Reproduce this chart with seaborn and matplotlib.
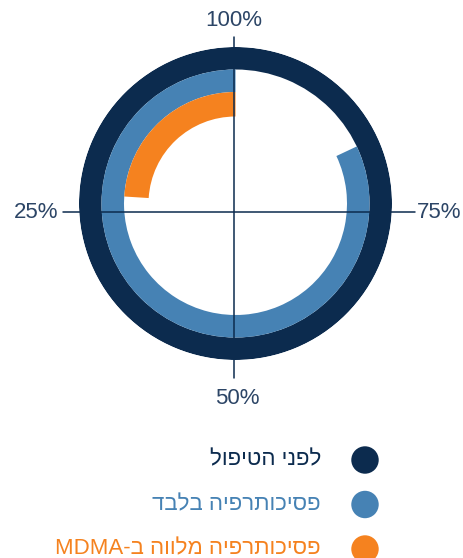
import re
import numpy as np
import seaborn as sns
import matplotlib.pyplot as plt

# data
series = ["לפני הטיפול", "פסיכותרפיה בלבד", "פסיכותרפיה מלווה ב-MDMA"]
values = [100, 82, 24]          # percent of the full circle
colors = ["#0c2b4e", "#4682b4", "#f5821f"]
ticks = [100, 25, 50, 75]       # top, left, bottom, right

sns.set_theme(style="white")
plt.rcParams["font.family"] = ["Liberation Sans", "DejaVu Sans"]


def visual(s):
    # matplotlib has no bidi support: flip hebrew, keep latin runs readable
    r = s[::-1]
    return re.sub(r"[A-Za-z0-9]+", lambda m: m.group(0)[::-1], r)


W, H = 463, 558
fig = plt.figure(figsize=(W / 100, H / 100), dpi=100)

# ring geometry in pixels
cx, cy, R = 235.5, 203.5, 156.5
bands = [(134, 22.5), (111.5, 22.5), (87, 24.5)]  # (inner radius, width)

ax = fig.add_axes([(cx - R) / W, (H - cy - R) / H, 2 * R / W, 2 * R / H],
                  projection="polar")
ax.set_theta_zero_location("N")
ax.set_theta_direction(1)
ax.set_ylim(0, R)
for v, c, (b, w) in zip(values, colors, bands):
    th = v / 100 * 2 * np.pi
    ax.bar(0, w, width=th, bottom=b, align="edge", color=c,
           edgecolor="none", linewidth=0)
ax.grid(False)
ax.set_xticks([])
ax.set_yticks([])
ax.spines["polar"].set_visible(False)
ax.patch.set_alpha(0)

# overlay for crosshair, tick labels and legend
ov = fig.add_axes([0, 0, 1, 1])
ov.set_xlim(0, W)
ov.set_ylim(H, 0)
ov.axis("off")
ov.patch.set_alpha(0)

line_c = "#0c2b4e"
ov.plot([234, 234], [37, 378], color=line_c, lw=1.1)
ov.plot([63, 415], [212, 212], color=line_c, lw=1.1)

lab_c = "#2c4566"
fs = 16
ov.text(234, 20.5, f"{ticks[0]}%", ha="center", va="center", fontsize=fs, color=lab_c)
ov.text(58, 212, f"{ticks[1]}%", ha="right", va="center", fontsize=fs, color=lab_c)
ov.text(237, 399, f"{ticks[2]}%", ha="center", va="center", fontsize=fs, color=lab_c)
ov.text(417, 213, f"{ticks[3]}%", ha="left", va="center", fontsize=fs, color=lab_c)

# legend
for i, (name, c) in enumerate(zip(series, colors)):
    y = 460 + i * 44.5
    ov.scatter([365], [y], s=390, color=c, edgecolor="none")
    ov.text(321, y, visual(name), ha="right", va="center", fontsize=fs, color=c)

fig.savefig("out.png", dpi=100)
